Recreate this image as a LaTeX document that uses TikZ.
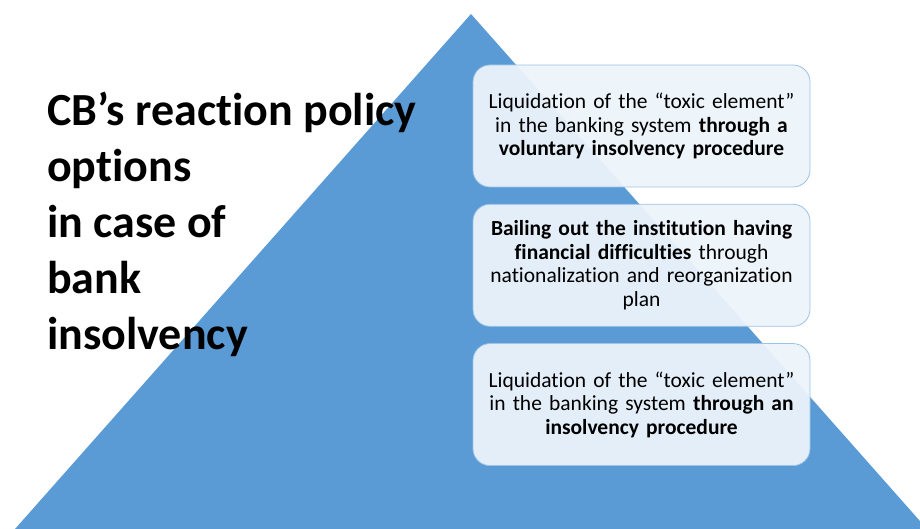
\documentclass[tikz,border=0pt]{standalone}
\usepackage{fontspec}
\setmainfont{Carlito}[Ligatures=NoCommon]
\usepackage{tikz}
\usetikzlibrary{positioning}

\definecolor{pyramidblue}{RGB}{91,155,213}
\definecolor{boxfill}{RGB}{236,243,250}
\definecolor{boxline}{RGB}{157,195,230}

\begin{document}
\begin{tikzpicture}[x=1pt, y=1pt,
        option/.style={draw=boxline, line width=0.8pt, fill=boxfill, fill opacity=0.95,
            text opacity=1, rounded corners=17pt, minimum width=337pt, minimum height=122pt,
            text width=330pt, align=center, inner sep=0pt,
            font=\fontsize{21.5}{23.5}\selectfont}]
        \useasboundingbox (0,0) rectangle (920,529);
        \clip (0,0) rectangle (920,529);

        % pyramid in the background
        \fill[pyramidblue] (15,0) -- (471,515) -- (927,0) -- cycle;

        \node[anchor=north west, align=left, inner sep=0pt,
            font=\fontsize{46}{56}\selectfont\bfseries] (title) at (47,437)
            {CB’s reaction policy\\ options\\ in case of\\ bank\\ insolvency};

        \node[option] (voluntary) at (641.5,403)
            {Liquidation of the “toxic element”\\ in the banking system \textbf{through a}\\
             \textbf{voluntary insolvency procedure}};
        \node[option, below=16.5pt of voluntary] (bailout)
            {\textbf{Bailing out the institution having}\\ \textbf{financial difficulties} through\\
             nationalization and reorganization\\ plan};
        \node[option, below=16.5pt of bailout] (liquidation)
            {Liquidation of the “toxic element”\\ in the banking system \textbf{through an}\\
             \textbf{insolvency procedure}};
    \end{tikzpicture}
\end{document}
